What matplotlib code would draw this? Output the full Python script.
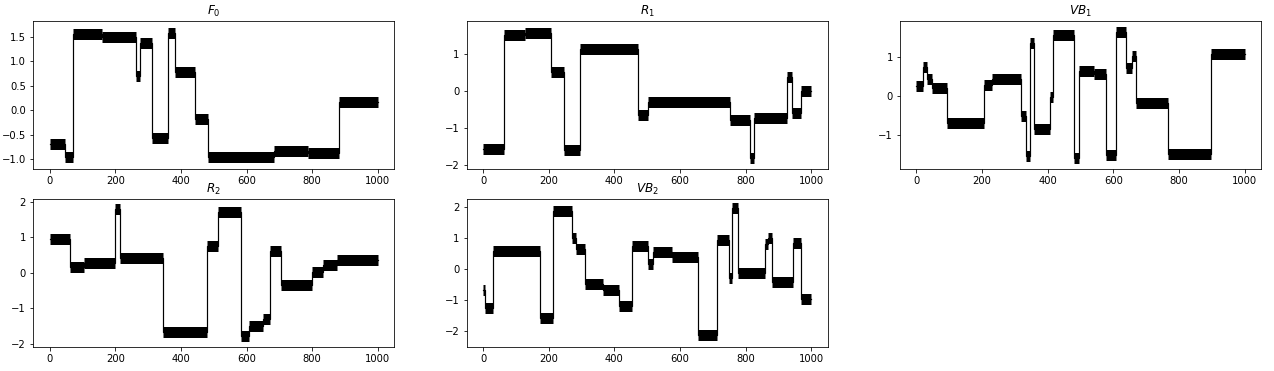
import numpy as np
from matplotlib import pyplot as plt

# piecewise-constant signals: segment edges (sample index) and level per segment
f0_edges = [0, 47, 72, 160, 263, 276, 313, 362, 383, 442, 482, 683, 787, 882, 999]
f0_levels = [-0.68, -0.95, 1.55, 1.49, 0.70, 1.38, -0.57, 1.58, 0.78, -0.17, -0.95, -0.82, -0.87, 0.17]

r1_edges = [0, 64, 128, 208, 246, 296, 472, 503, 753, 814, 824, 927, 940, 968, 999]
r1_levels = [-1.57, 1.50, 1.56, 0.51, -1.58, 1.11, -0.64, -0.30, -0.78, -1.80, -0.73, 0.37, -0.58, 0.01]

vb1_edges = [0, 21, 32, 48, 94, 206, 230, 319, 334, 346, 357, 406, 417, 479, 494, 542,
             576, 608, 637, 655, 670, 766, 896, 999]
vb1_levels = [0.27, 0.75, 0.44, 0.21, -0.69, 0.30, 0.44, -0.50, -1.53, 1.36, -0.85, -0.02,
              1.57, -1.58, 0.64, 0.57, -1.50, 1.66, 0.73, 1.03, -0.17, -1.47, 1.09]

r2_edges = [0, 63, 104, 200, 215, 344, 481, 512, 584, 607, 651, 672, 704, 800, 833, 874, 999]
r2_levels = [0.96, 0.17, 0.27, 1.79, 0.42, -1.65, 0.75, 1.72, -1.77, -1.49, -1.31, 0.61,
             -0.34, 0.03, 0.23, 0.36]

vb2_edges = [0, 7, 30, 174, 214, 270, 282, 310, 366, 415, 455, 503, 517, 576, 656, 712,
             750, 759, 777, 858, 869, 879, 945, 968, 999]
vb2_levels = [-0.68, -1.28, 0.57, -1.58, 1.86, 1.00, 0.63, -0.50, -0.69, -1.22, 0.73, 0.16,
              0.53, 0.38, -2.14, 0.95, -0.30, 1.96, -0.14, 0.79, 1.00, -0.42, 0.84, -0.99]

panels = [
    ('$F_0$', f0_edges, f0_levels, (-1.2, 1.82)),
    ('$R_1$', r1_edges, r1_levels, (-2.1, 1.87)),
    ('$VB_1$', vb1_edges, vb1_levels, (-1.87, 1.93)),
    ('$R_2$', r2_edges, r2_levels, (-2.08, 2.08)),
    ('$VB_2$', vb2_edges, vb2_levels, (-2.53, 2.27)),
]

fig, axes = plt.subplots(2, 3, figsize=(1274 / 72, 371 / 72), dpi=72)
fig.subplots_adjust(left=0.026, right=0.990, top=0.943, bottom=0.065,
                    wspace=0.2, hspace=0.2)

for ax, (title, edges, levels, ylim) in zip(axes.flat, panels):
    edges = np.array(edges)
    levels = np.array(levels)
    # thin connecting steps
    ax.step(edges, np.append(levels, levels[-1]), where='post', color='k', lw=1.2)
    # thick bands
    ax.hlines(levels, edges[:-1], edges[1:], colors='k', lw=11, capstyle='butt')
    ax.set_title(title, fontsize=12)
    ax.set_xlim(-50, 1050)
    ax.set_ylim(*ylim)
    ax.tick_params(labelsize=10)

axes[1, 2].axis('off')

plt.savefig('out.png', dpi=72)
